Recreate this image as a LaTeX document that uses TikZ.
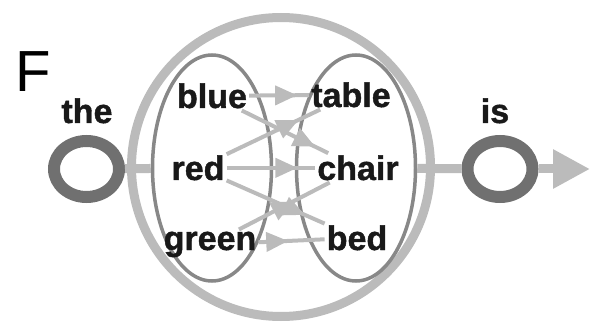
\documentclass[tikz,border=0pt]{standalone}
\usepackage{fontspec}
\setmainfont{Liberation Sans}[BoldFeatures={FakeBold=1.2}]
\usepackage{tikz}
\usetikzlibrary{arrows.meta,shapes.geometric,decorations.markings}

\definecolor{lightline}{HTML}{BBBBBB}
\definecolor{darkline}{HTML}{888888}
\definecolor{ringgray}{HTML}{707070}

\begin{document}
\begin{tikzpicture}[
  x=1pt, y=-1pt,
  word/.style={font=\fontsize{34}{40}\selectfont\bfseries, text=black!90, inner sep=2pt, anchor=base},
  ring/.style={draw=ringgray, ellipse, line width=12pt, minimum width=65pt, minimum height=56pt, inner sep=0pt},
  bigloop/.style={draw=lightline, circle, line width=9pt, minimum size=299pt, inner sep=0pt},
  wordset/.style={draw=darkline, ellipse, line width=3.5pt, minimum width=119pt, minimum height=226pt, inner sep=0pt},
  link/.style={draw=lightline, line width=9pt},
  flow/.style={draw=lightline, line width=4pt,
    postaction={decorate, decoration={markings, mark=at position #1 with {\arrow{Triangle[length=22pt, width=19pt]}}}}},
  flow/.default=0.75
]
  \useasboundingbox (0,0) rectangle (592,326);

  % loop and the two word sets
  \node[bigloop] (loop) at (281,167) {};
  \node[wordset] (leftSet) at (212,168) {};
  \node[wordset] (rightSet) at (356,168) {};

  % states before and after
  \node[ring] (theRing) at (86.5,169) {};
  \node[ring] (isRing) at (500,169) {};
  \coordinate (outTip) at (590,169);

  \draw[link] (theRing) -- (leftSet);
  \draw[link] (rightSet) -- (isRing);
  \draw[link, -{Triangle[length=37pt, width=37pt]}] (isRing) -- (outTip);

  % labels
  \node[font=\fontsize{58}{60}\selectfont, anchor=base] (fLabel) at (33,92) {F};
  \node[word] (the) at (87,123) {the};
  \node[word] (is) at (495,123) {is};

  \node[word] (blue) at (212,108) {blue};
  \node[word] (red) at (198,180) {red};
  \node[word] (green) at (210,250) {green};
  \node[word] (table) at (351,107) {table};
  \node[word] (chair) at (358,180) {chair};
  \node[word] (bed) at (357,250) {bed};

  % transitions
  \draw[flow=0.8] (blue) -- (table);
  \draw[flow=0.85] (blue) -- (chair);
  \draw[flow=0.77] (red) -- (table);
  \draw[flow=0.8] (red) -- (chair);
  \draw[flow=0.8] (red) -- (bed);
  \draw[flow=0.6] (green) -- (chair);
  \draw[flow=0.45] (green) -- (bed);
\end{tikzpicture}
\end{document}
